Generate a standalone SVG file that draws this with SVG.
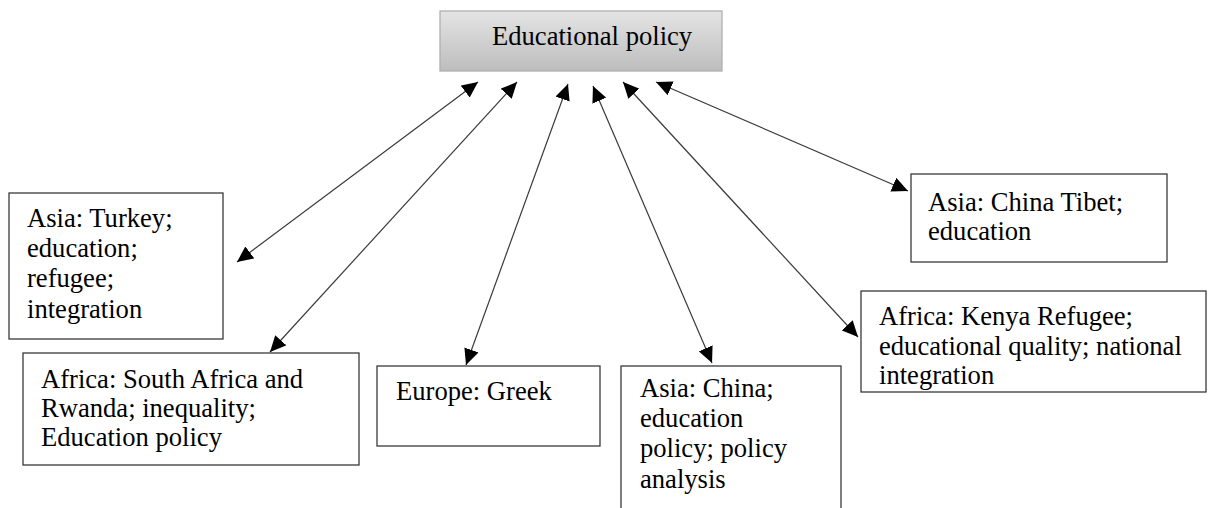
<svg xmlns="http://www.w3.org/2000/svg" width="1208" height="508" viewBox="0 0 1208 508">
<style>
.box{fill:#ffffff;stroke:#3a3a3a;stroke-width:1.3}
.t{font-family:'Liberation Serif','Times New Roman','DejaVu Serif',serif;font-size:26.6px;fill:#000}
.c{stroke:#3a3a3a;stroke-width:1.2;fill:none;marker-start:url(#ah);marker-end:url(#ah)}
</style>
<defs>
<linearGradient id="g" x1="0" y1="0" x2="0" y2="1">
<stop offset="0" stop-color="#e4e4e4"/>
<stop offset="1" stop-color="#bdbdbd"/>
</linearGradient>
<marker id="ah" markerUnits="userSpaceOnUse" markerWidth="17" markerHeight="15" refX="16" refY="7.5" orient="auto-start-reverse" viewBox="0 0 17 15">
<path d="M0,0 L16,7.5 L0,15 z" fill="#000"/>
</marker>
</defs>
<rect width="1208" height="508" fill="#ffffff"/>
<g id="connectors">
<line class="c" x1="478" y1="82" x2="237" y2="262"/>
<line class="c" x1="517" y1="82" x2="270" y2="352"/>
<line class="c" x1="568" y1="84" x2="466" y2="365"/>
<line class="c" x1="593" y1="86" x2="712" y2="363"/>
<line class="c" x1="623" y1="82" x2="858" y2="337"/>
<line class="c" x1="656" y1="82" x2="908" y2="191"/>
</g>
<g id="educational-policy">
<rect x="440" y="11" width="282" height="60" fill="url(#g)" stroke="#b0b0b0" stroke-width="1.3"/>
<text class="t" x="492" y="45">Educational policy</text>
</g>
<g id="asia-turkey">
<rect class="box" x="9" y="193" width="214" height="146"/>
<text class="t" x="27" y="227">Asia: Turkey;</text>
<text class="t" x="27" y="257">education;</text>
<text class="t" x="27" y="287">refugee;</text>
<text class="t" x="27" y="318">integration</text>
</g>
<g id="africa-south-africa">
<rect class="box" x="23" y="353" width="336" height="112"/>
<text class="t" x="41" y="388">Africa: South Africa and</text>
<text class="t" x="41" y="417">Rwanda; inequality;</text>
<text class="t" x="41" y="446">Education policy</text>
</g>
<g id="europe-greek">
<rect class="box" x="377" y="366" width="223" height="80"/>
<text class="t" x="396" y="400">Europe: Greek</text>
</g>
<g id="asia-china">
<rect class="box" x="621" y="366" width="220" height="160"/>
<text class="t" x="640" y="397">Asia: China;</text>
<text class="t" x="640" y="427">education</text>
<text class="t" x="640" y="457">policy; policy</text>
<text class="t" x="640" y="488">analysis</text>
</g>
<g id="africa-kenya">
<rect class="box" x="861" y="291" width="345" height="101"/>
<text class="t" x="879" y="325">Africa: Kenya Refugee;</text>
<text class="t" x="879" y="355">educational quality; national</text>
<text class="t" x="879" y="384">integration</text>
</g>
<g id="asia-china-tibet">
<rect class="box" x="911" y="174" width="256" height="88"/>
<text class="t" x="928" y="211">Asia: China Tibet;</text>
<text class="t" x="928" y="240">education</text>
</g>
</svg>
